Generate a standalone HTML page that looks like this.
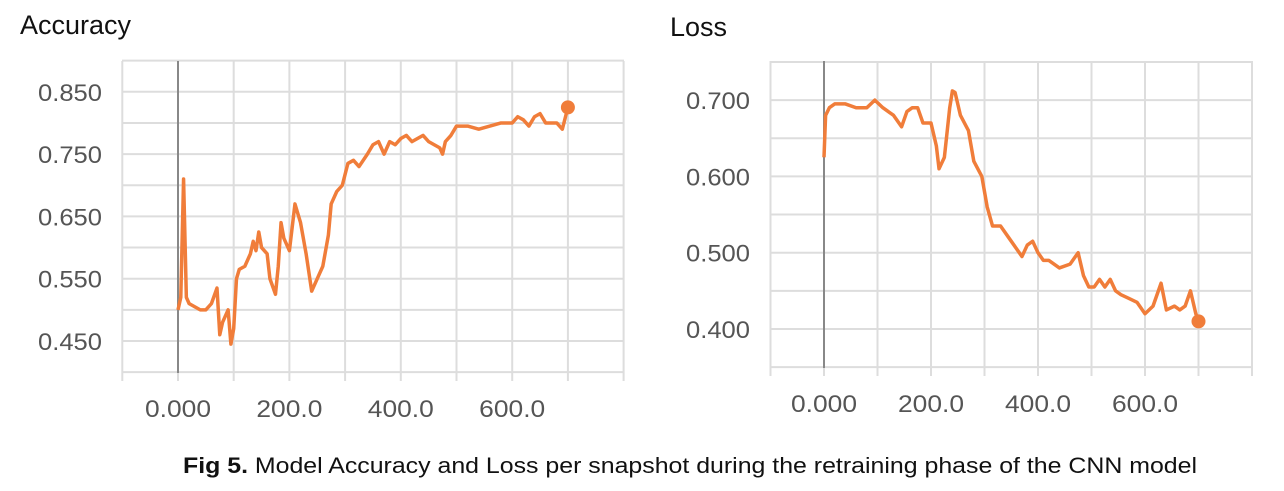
<!DOCTYPE html>
<html><head><meta charset="utf-8"><style>
html,body{margin:0;padding:0;background:#fff;width:1284px;height:491px;overflow:hidden;font-family:"Liberation Sans",sans-serif}
svg{position:absolute;left:0;top:0}
</style></head><body>
<svg id="s" width="1284" height="491">
<text x="20" y="34" font-size="27" fill="#111">Accuracy</text>
<text x="670" y="36" font-size="27" fill="#111">Loss</text>
<text x="183" y="473" font-size="22" fill="#111" textLength="1014" lengthAdjust="spacingAndGlyphs"><tspan font-weight="bold">Fig 5.</tspan> Model Accuracy and Loss per snapshot during the retraining phase of the CNN model</text>
</svg>
<script>
const accSteps=[0,5,10,15,20,30,40,50,60,70,75,80,90,95,100,105,110,120,130,135,140,145,150,160,165,175,180,185,190,200,210,220,230,240,250,260,270,275,285,295,305,315,325,340,350,360,370,380,390,400,410,420,440,450,460,470,475,480,490,500,520,540,560,580,600,610,620,630,640,650,660,680,690,700];
const accValues=[0.50,0.52,0.71,0.52,0.51,0.505,0.50,0.50,0.51,0.535,0.46,0.48,0.50,0.445,0.47,0.55,0.565,0.57,0.59,0.61,0.595,0.625,0.60,0.59,0.55,0.525,0.57,0.64,0.615,0.595,0.67,0.64,0.59,0.53,0.55,0.57,0.62,0.67,0.69,0.70,0.735,0.74,0.73,0.75,0.765,0.77,0.75,0.77,0.765,0.775,0.78,0.77,0.78,0.77,0.765,0.76,0.75,0.77,0.78,0.795,0.795,0.79,0.795,0.80,0.80,0.81,0.805,0.795,0.81,0.815,0.80,0.80,0.79,0.825];
const lossSteps=[0,3,10,20,40,60,80,95,110,130,145,155,165,175,185,200,210,215,225,235,240,245,255,270,280,295,305,315,330,345,360,370,380,390,400,410,420,440,460,475,485,495,505,515,525,535,545,555,570,585,600,615,630,640,655,665,675,685,695,700];
const lossValues=[0.625,0.68,0.69,0.695,0.695,0.69,0.69,0.70,0.69,0.68,0.665,0.685,0.69,0.69,0.67,0.67,0.64,0.61,0.625,0.69,0.712,0.71,0.68,0.66,0.62,0.60,0.56,0.535,0.535,0.52,0.505,0.495,0.51,0.515,0.50,0.49,0.49,0.48,0.485,0.50,0.47,0.455,0.455,0.465,0.455,0.465,0.45,0.445,0.44,0.435,0.42,0.43,0.46,0.425,0.43,0.425,0.43,0.45,0.42,0.41];
const xTicks=[0,200,400,600];
const xTickLabels=["0.000","200.0","400.0","600.0"];
const accTicks=[0.45,0.55,0.65,0.75,0.85];
const accTickLabels=["0.450","0.550","0.650","0.750","0.850"];
const lossTicks=[0.4,0.5,0.6,0.7];
const lossTickLabels=["0.400","0.500","0.600","0.700"];
const NS="http://www.w3.org/2000/svg";
const svg=document.getElementById('s');
function mk(t,a){const e=document.createElementNS(NS,t);for(const k in a)e.setAttribute(k,a[k]);svg.appendChild(e);return e;}
function chart(c){
 const X=v=>c.x0+v*c.px, Y=v=>c.y0-(v-c.v0)*c.py;
 for(let v=c.gMin;v<=c.gMax+1e-9;v+=c.gStep){const l=mk('line',{x1:c.left,x2:c.right,y1:Y(v),y2:Y(v),stroke:'#ddd','stroke-width':2});
 
 }
 for(let s=-100;s<=800;s+=100){const xx=X(s);if(xx<c.left-1||xx>c.right+1)continue;const l=mk('line',{x1:xx,x2:xx,y1:c.top,y2:c.bottom+8,stroke:'#ddd','stroke-width':2});
 
 }
 const z=mk('line',{x1:X(0),x2:X(0),y1:c.top,y2:c.bottom,stroke:'#888','stroke-width':2});
 
 
 c.yt.forEach((v,i)=>{const t=mk('text',{x:c.left-20,y:Y(v)+9,'font-size':24,fill:'#555','text-anchor':'end',textLength:64,lengthAdjust:'spacingAndGlyphs'});t.textContent=c.ytl[i];
 
 });
 xTicks.forEach((v,i)=>{const t=mk('text',{x:X(v)-33,y:c.bottom+44,'font-size':24,fill:'#555',textLength:66,lengthAdjust:'spacingAndGlyphs'});t.textContent=xTickLabels[i];
 
 });
 const p=mk('polyline',{points:c.s.map((s,i)=>X(s)+','+Y(c.v[i])).join(' '),fill:'none',stroke:'#f07d3a','stroke-width':3.5,'stroke-linejoin':'round'});
 
 
 const n=c.s.length-1;
 const d=mk('circle',{cx:X(c.s[n]),cy:Y(c.v[n]),r:7,fill:'#f07d3a'});
 
 
}
chart({name:'accuracy',x0:178,px:0.557,y0:341,v0:0.45,py:623,left:122,right:624,top:61,bottom:373,gMin:0.40,gMax:0.90,gStep:0.05,yt:accTicks,ytl:accTickLabels,s:accSteps,v:accValues});
chart({name:'loss',x0:824,px:0.535,y0:329,v0:0.40,py:763,left:770,right:1253,top:61,bottom:368,gMin:0.35,gMax:0.75,gStep:0.05,yt:lossTicks,ytl:lossTickLabels,s:lossSteps,v:lossValues});
</script>
</body></html>
